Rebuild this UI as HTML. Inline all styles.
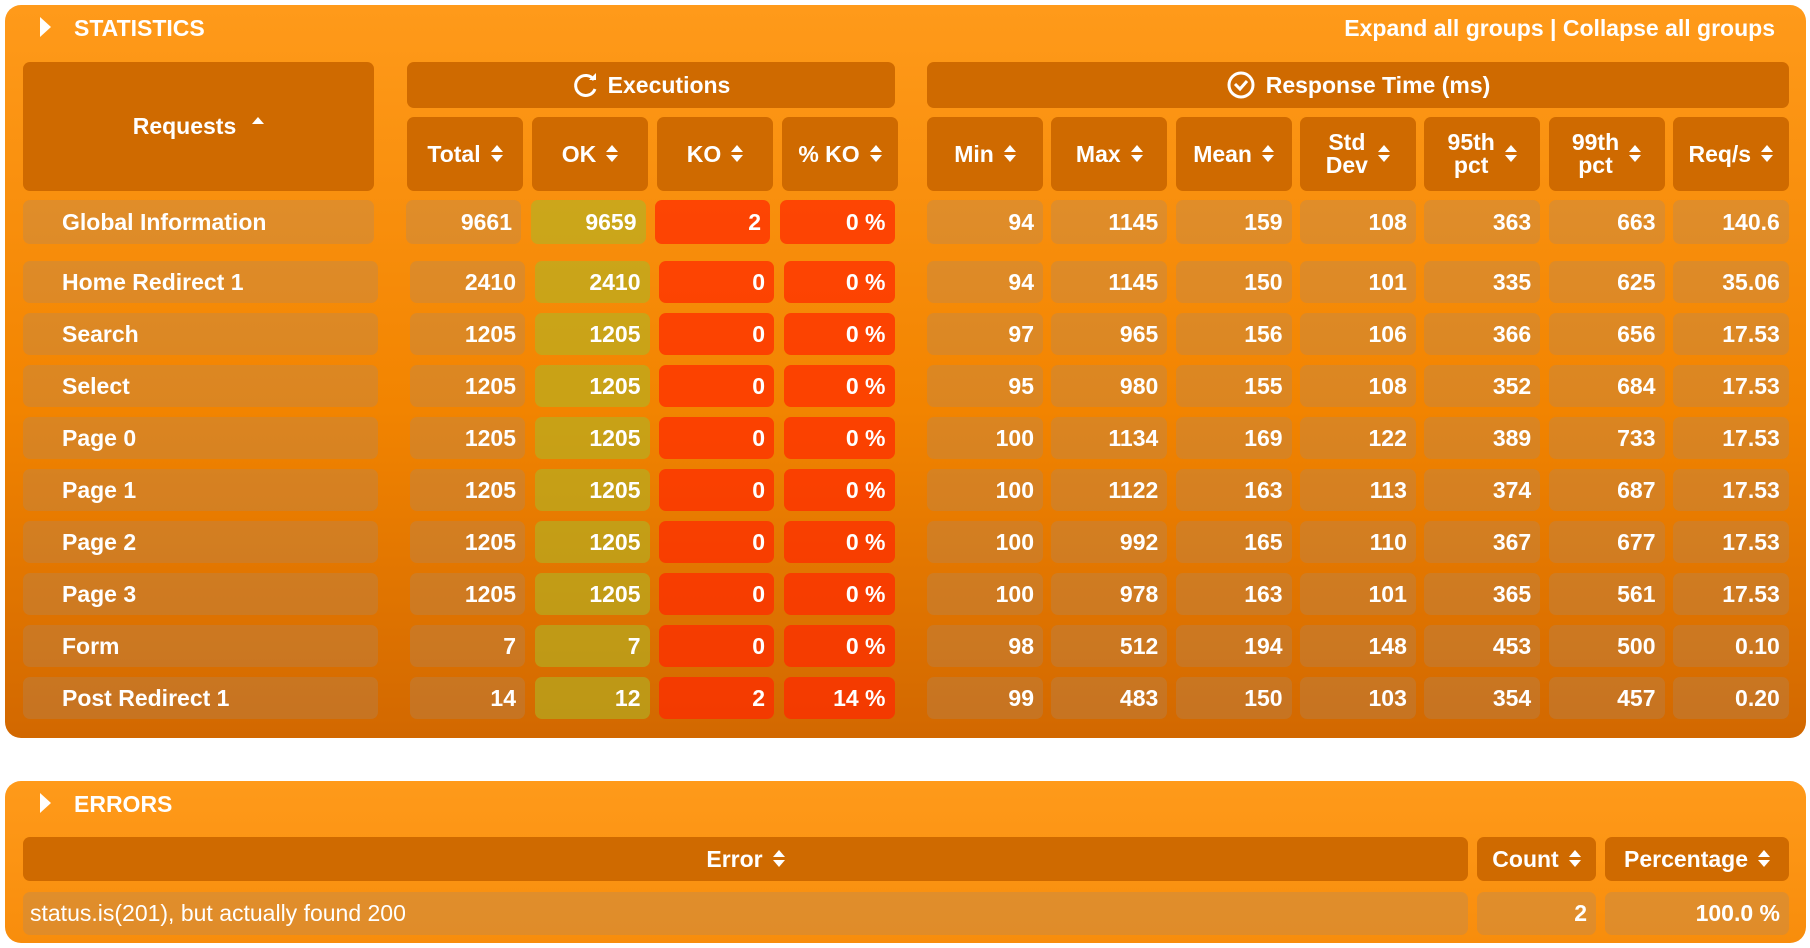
<!DOCTYPE html>
<html><head><meta charset="utf-8"><style>
body{margin:0;width:1810px;height:948px;background:#fff;font-family:"Liberation Sans",Arial,sans-serif;position:relative;overflow:hidden}
.panel{position:absolute;border-radius:16px}
#stats{left:5px;top:5px;width:1801px;height:733px;background:linear-gradient(#ff9a1a,#f28400 55%,#d26800)}
#errors{left:5px;top:781px;width:1801px;height:162px;background:linear-gradient(#ff9a1a,#f88d0c)}
.c{position:absolute;box-sizing:border-box;border-radius:7px;color:#fff;font-weight:bold;font-size:23px;line-height:1;display:flex;align-items:center}
.h{background:#cf6a00;justify-content:center;text-align:center}
.d{background:rgba(171,137,104,0.32);justify-content:flex-end;padding-right:9px}
.ok{background:rgba(174,182,37,0.6)}
.ko{background:rgba(255,40,0,0.72)}
.nm{justify-content:flex-start;padding-left:39px}
.t{position:absolute;color:#fff;font-weight:bold;font-size:23px}
.sort{display:inline-block;width:12px;height:18px;margin-left:10px;position:relative;vertical-align:middle}
.sort:before{content:"";position:absolute;left:0;top:0;border:6px solid transparent;border-bottom:7px solid #fff;border-top:0}
.sort:after{content:"";position:absolute;left:0;top:10px;border:6px solid transparent;border-top:7px solid #fff;border-bottom:0}
</style></head><body>
<div class="panel" id="stats"></div>
<div class="panel" id="errors"></div>
<div style="position:absolute;left:40px;top:17px;width:0;height:0;border-top:10px solid transparent;border-bottom:10px solid transparent;border-left:11px solid #fff"></div>
<div class="t" style="left:74px;top:15px">STATISTICS</div>
<div class="t" style="right:35px;top:15px">Expand all groups | Collapse all groups</div>
<div style="position:absolute;left:40px;top:793px;width:0;height:0;border-top:10px solid transparent;border-bottom:10px solid transparent;border-left:11px solid #fff"></div>
<div class="t" style="left:74px;top:791px">ERRORS</div>

<div class="c h" style="left:23px;top:62px;width:351px;height:129px"><span>Requests</span><span style="display:inline-block;margin:0 0 12px 16px;border:6px solid transparent;border-bottom:7px solid #fff;border-top:0"></span></div>
<div class="c h" style="left:407px;top:62px;width:488px;height:46px">
<svg width="28" height="28" viewBox="0 0 28 28" style="margin-right:8px"><path d="M22 9A10 10 0 1 0 23 18" fill="none" stroke="#fff" stroke-width="3"/><path d="M17 9h7V2z" fill="#fff"/></svg>Executions</div>
<div class="c h" style="left:927px;top:62px;width:862px;height:46px">
<svg width="30" height="30" viewBox="0 0 30 30" style="margin-right:10px"><circle cx="15" cy="15" r="12" fill="none" stroke="#fff" stroke-width="3"/><path d="M9 14l5 5 7-8" fill="none" stroke="#fff" stroke-width="3"/></svg>Response Time (ms)</div>
<div id="tbl"></div>

<div class="c h" style="left:23px;top:837px;width:1445px;height:44px">Error<span class="sort"></span></div>
<div class="c h" style="left:1477px;top:837px;width:119px;height:44px">Count<span class="sort"></span></div>
<div class="c h" style="left:1605px;top:837px;width:184px;height:44px">Percentage<span class="sort"></span></div>
<div class="c d" style="left:23px;top:892px;width:1445px;height:43px;justify-content:flex-start;padding-left:7px;font-weight:normal">status.is(201), but actually found 200</div>
<div class="c d" style="left:1477px;top:892px;width:119px;height:43px">2</div>
<div class="c d" style="left:1605px;top:892px;width:184px;height:43px">100.0 %</div>

<script>
const requests=["Global Information","Home Redirect 1","Search","Select","Page 0","Page 1","Page 2","Page 3","Form","Post Redirect 1"];
const total=["9661","2410","1205","1205","1205","1205","1205","1205","7","14"];
const ok=["9659","2410","1205","1205","1205","1205","1205","1205","7","12"];
const ko=["2","0","0","0","0","0","0","0","0","2"];
const pko=["0 %","0 %","0 %","0 %","0 %","0 %","0 %","0 %","0 %","14 %"];
const minV=["94","94","97","95","100","100","100","100","98","99"];
const maxV=["1145","1145","965","980","1134","1122","992","978","512","483"];
const meanV=["159","150","156","155","169","163","165","163","194","150"];
const stdV=["108","101","106","108","122","113","110","101","148","103"];
const p95=["363","335","366","352","389","374","367","365","453","354"];
const p99=["663","625","656","684","733","687","677","561","500","457"];
const rps=["140.6","35.06","17.53","17.53","17.53","17.53","17.53","17.53","0.10","0.20"];
const execHeads=["Total","OK","KO","% KO"];
const rtHeads=["Min","Max","Mean","Std<br>Dev","95th<br>pct","99th<br>pct","Req/s"];
const tbl=document.getElementById('tbl');
function cell(cls,x,y,w,h,html){const d=document.createElement('div');d.className='c '+cls;d.style.cssText=`left:${x}px;top:${y}px;width:${w}px;height:${h}px`;d.innerHTML=html;tbl.appendChild(d);return d;}
execHeads.forEach((t,i)=>{const d=cell('h',407+i*125,117,116,74,t+'<span class="sort"></span>');

});
rtHeads.forEach((t,i)=>{const d=cell('h',927+i*124.3,117,116,74,'<span>'+t+'</span><span class="sort"></span>');

});
const rt=[minV,maxV,meanV,stdV,p95,p99,rps];
requests.forEach((r,j)=>{
 const y=j===0?200:261+(j-1)*52, h=j===0?44:42, dx=j===0?0:4;
 let d=cell('d nm',23,y,j===0?351:355,h,r);
 
 
 const ex=[total[j],ok[j],ko[j],pko[j]], cls=['d','d ok','d ko','d ko'];
 ex.forEach((v,i)=>{const e=cell(cls[i],406+dx+i*124.5,y,115-(i==3?dx:0),h,v);
 
 });
 rt.forEach((a,i)=>{const e=cell('d',927+i*124.3,y,116,h,a[j]);
 
 });
});
</script>
</body></html>
